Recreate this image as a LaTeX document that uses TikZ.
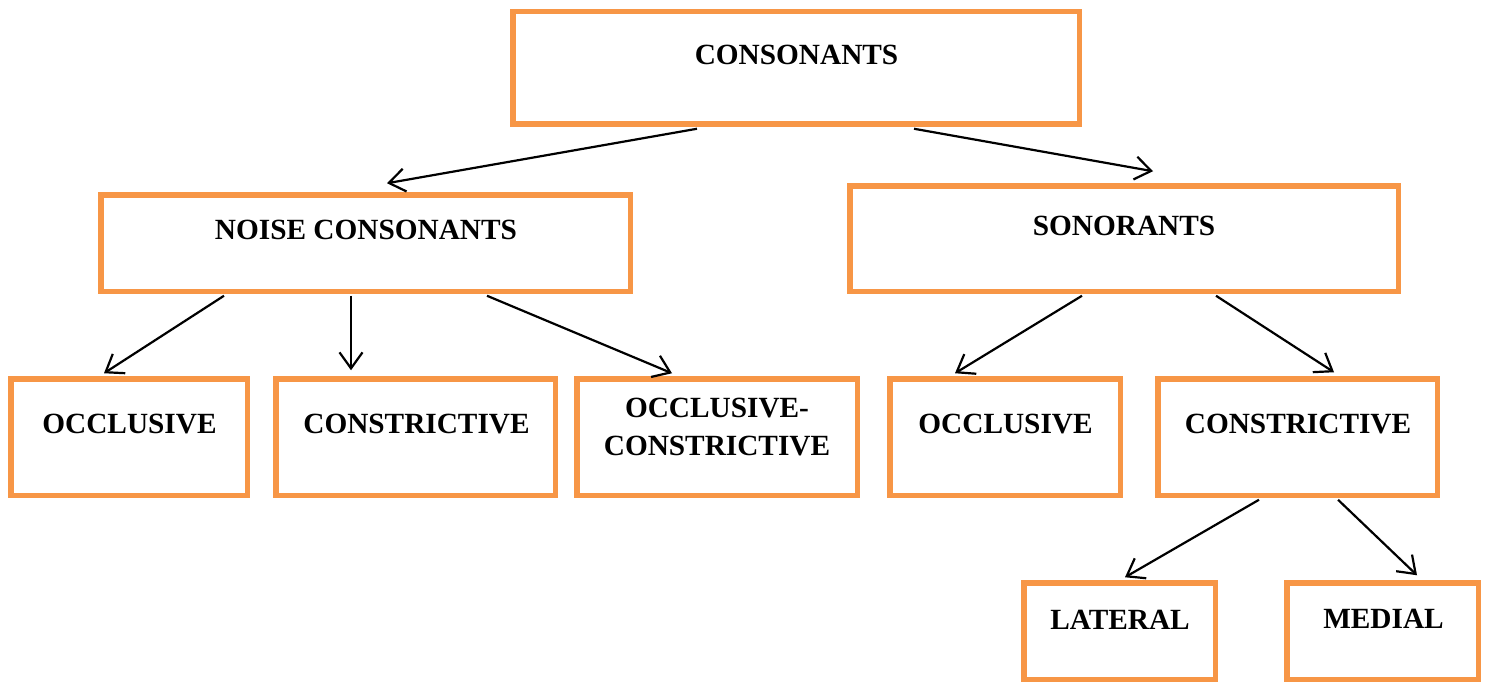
\documentclass[tikz,border=0pt]{standalone}
\usepackage{fontspec}
\setmainfont{Liberation Serif}
\usetikzlibrary{arrows.meta,calc}
\definecolor{boxorange}{HTML}{F79646}
\tikzset{
  box/.style={draw=boxorange,line width=5.5pt,fill=white,inner sep=0pt},
  lbl/.style={inner sep=0pt,anchor=base,font=\fontsize{29.3}{38}\selectfont\bfseries,align=center},
  conn/.style={draw=black,line width=2.2pt,-{Straight Barb[length=16pt,width=23pt,line width=2.2pt]}}
}
\begin{document}
\begin{tikzpicture}[x=1pt,y=-1pt]
\useasboundingbox (0,0) rectangle (1487,682);
\fill[white] (0,0) rectangle (1487,682);
% boxes
\node[box,minimum width=566.5pt,minimum height=112.5pt] (cons) at (796,68) {};
\node[box,minimum width=529.5pt,minimum height=96.5pt] (noise) at (365.5,243) {};
\node[box,minimum width=548.5pt,minimum height=105.5pt] (son) at (1124,238.5) {};
\node[box,minimum width=236.5pt,minimum height=116.5pt] (occA) at (129,437) {};
\node[box,minimum width=279.5pt,minimum height=116.5pt] (conA) at (415.5,437) {};
\node[box,minimum width=280.5pt,minimum height=116.5pt] (occon) at (717,437) {};
\node[box,minimum width=230.5pt,minimum height=116.5pt] (occB) at (1005,437) {};
\node[box,minimum width=279.5pt,minimum height=116.5pt] (conB) at (1297.5,437) {};
\node[box,minimum width=191.5pt,minimum height=96.5pt] (lat) at (1119.5,631) {};
\node[box,minimum width=191.5pt,minimum height=96.5pt] (med) at (1382.5,631) {};
% labels
\node[lbl] (tcons) at (796.5,65) {CONSONANTS};
\node[lbl] (tnoise) at (366,239) {NOISE CONSONANTS};
\node[lbl] (tson) at (1124,235) {SONORANTS};
\node[lbl] (toccA) at (129.5,433) {OCCLUSIVE};
\node[lbl] (tconA) at (416.5,433) {CONSTRICTIVE};
\node[lbl] (toccon) at (717,455) {OCCLUSIVE-\\CONSTRICTIVE};
\node[lbl] (toccB) at (1005.5,433) {OCCLUSIVE};
\node[lbl] (tconB) at (1298,433) {CONSTRICTIVE};
\node[lbl] (tlat) at (1120,629) {LATERAL};
\node[lbl] (tmed) at (1383.5,628) {MEDIAL};
% connectors
\draw[conn] ($(cons.south)+(-99,1.75)$) -- ($(noise.north)+(21.5,-8.75)$);
\draw[conn] ($(cons.south)+(118,1.75)$) -- ($(son.north)+(29,-11.75)$);
\draw[conn] ($(noise.south)+(-141.5,1.75)$) -- ($(occA.north)+(-25,-2.75)$);
\draw[conn] ($(noise.south)+(-14.5,1.75)$) -- ($(conA.north)+(-64.5,-5.75)$);
\draw[conn] ($(noise.south)+(121.5,1.75)$) -- ($(occon.north)+(-45,-2.75)$);
\draw[conn] ($(son.south)+(-42,1.75)$) -- ($(occB.north)+(-50,-2.75)$);
\draw[conn] ($(son.south)+(92,1.75)$) -- ($(conB.north)+(36.5,-3.75)$);
\draw[conn] ($(conB.south)+(-38.5,1.75)$) -- ($(lat.north)+(5.5,-2.75)$);
\draw[conn] ($(conB.south)+(40.5,1.75)$) -- ($(med.north)+(34.5,-4.75)$);
\end{tikzpicture}
\end{document}
